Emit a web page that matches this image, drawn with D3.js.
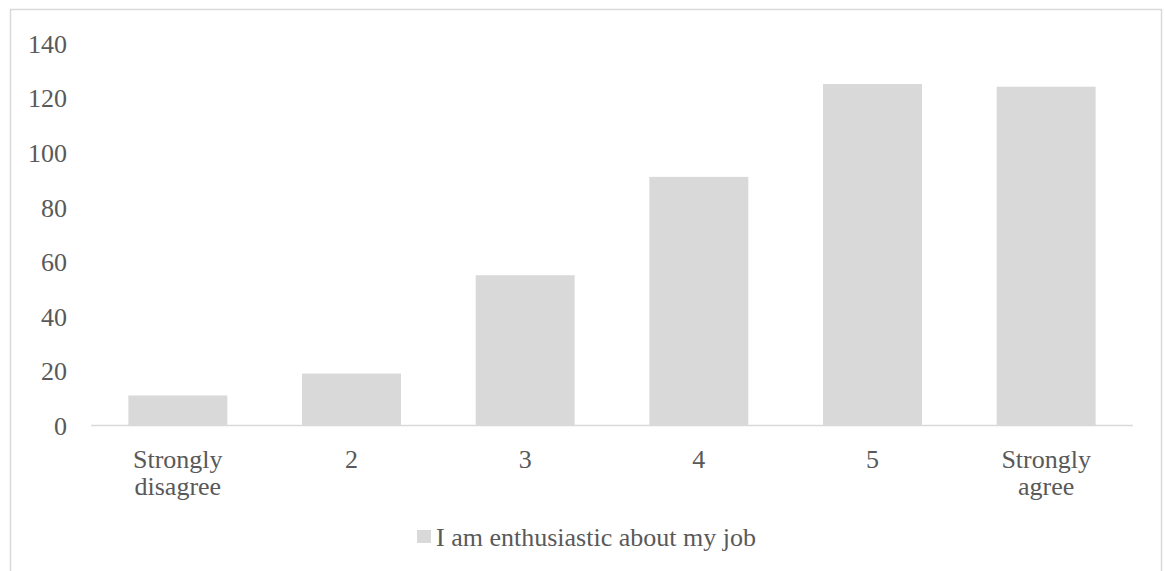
<!DOCTYPE html>
<html>
<head>
<meta charset="utf-8">
<script src="https://cdn.jsdelivr.net/npm/d3@7/dist/d3.min.js"></script>
<style>
  html, body { margin: 0; padding: 0; background: #fff; }
  svg { display: block; }
  text { font-family: "Times New Roman", "Liberation Serif", serif; fill: #595959; }
</style>
</head>
<body>
<svg id="chart" width="1165" height="571"></svg>
<script>
// Survey responses: "I am enthusiastic about my job"
const categories = [["Strongly", "disagree"], ["2"], ["3"], ["4"], ["5"], ["Strongly", "agree"]];
const values = [11, 19, 55, 91, 125, 124];
const yTicks = [0, 20, 40, 60, 80, 100, 120, 140];
const seriesName = "I am enthusiastic about my job";

const svg = d3.select("#chart");
const plot = { left: 91, right: 1133, top: 43, bottom: 425.5 };
const barColor = "#d9d9d9";
const fontSize = 26;
const fontFamily = "'Times New Roman', 'Liberation Serif', serif";

// chart frame (bottom edge falls outside the view)
svg.append("rect")
  .attr("x", 10.5).attr("y", 9.5)
  .attr("width", 1151).attr("height", 600)
  .attr("fill", "#fff").attr("stroke", "#d9d9d9").attr("stroke-width", 1.5);

const keys = categories.map((c, i) => i);
const x = d3.scaleBand().domain(keys).range([plot.left, plot.right]).paddingInner(0.43).paddingOuter(0.215);
const y = d3.scaleLinear().domain([0, 140]).range([plot.bottom, plot.top]);

// bars
svg.append("g").selectAll("rect")
  .data(values)
  .join("rect")
  .attr("x", (d, i) => x(i))
  .attr("y", d => y(d))
  .attr("width", x.bandwidth())
  .attr("height", d => y(0) - y(d))
  .attr("fill", barColor);

// y axis labels (no axis line)
const yAxis = d3.axisLeft(y).tickValues(yTicks).tickSize(0).tickPadding(0);
const gy = svg.append("g").attr("transform", "translate(67,0)").call(yAxis);
gy.attr("font-family", fontFamily);
gy.select(".domain").remove();
gy.selectAll("text")
  .attr("font-size", fontSize)
  .attr("fill", "#595959")
  .attr("dy", "0.35em");

// category axis line
svg.append("line")
  .attr("x1", plot.left).attr("x2", plot.right)
  .attr("y1", plot.bottom).attr("y2", plot.bottom)
  .attr("stroke", "#d9d9d9").attr("stroke-width", 1.5);

// category labels, wrapped over lines
const cx = svg.append("g");
categories.forEach((lines, i) => {
  const t = cx.append("text")
    .attr("text-anchor", "middle")
    .attr("font-size", fontSize)
    .attr("x", x(i) + x.bandwidth() / 2)
    .attr("y", 467.5);
  lines.forEach((ln, j) => {
    t.append("tspan")
      .attr("x", x(i) + x.bandwidth() / 2)
      .attr("dy", j === 0 ? 0 : 27.5)
      .text(ln);
  });
});

// legend
const legend = svg.append("g");
legend.append("rect")
  .attr("x", 417).attr("y", 530)
  .attr("width", 14).attr("height", 13)
  .attr("fill", barColor);
legend.append("text")
  .attr("x", 436).attr("y", 546)
  .attr("font-size", fontSize)
  .text(seriesName);
</script>
</body>
</html>
